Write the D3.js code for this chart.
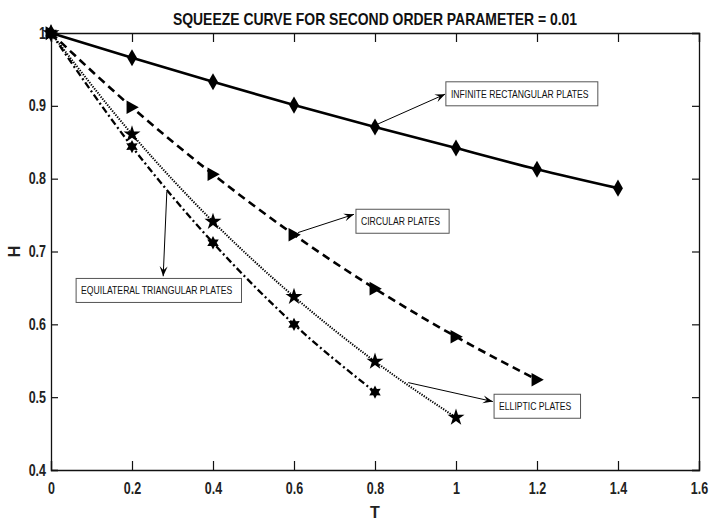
<!DOCTYPE html>
<html>
<head>
<meta charset="utf-8">
<script src="https://cdn.jsdelivr.net/npm/d3@7"></script>
<style>
  body { margin: 0; background: #fff; }
  text { font-family: 'Liberation Sans Narrow', 'Arial Narrow', 'Liberation Sans', sans-serif; }
</style>
</head>
<body>
<svg id="chart"></svg>
<script>
// data
let tValues = [0, 0.2, 0.4, 0.6, 0.8, 1.0, 1.2, 1.4];
let rectH = [1, 0.966, 0.933, 0.901, 0.871, 0.842, 0.813, 0.787];
let circH = [1, 0.898, 0.806, 0.723, 0.649, 0.583, 0.524];
let ellipH = [1, 0.861, 0.741, 0.638, 0.549, 0.472];
let triH = [1, 0.844, 0.712, 0.600, 0.507];

let xTicks = [0, 0.2, 0.4, 0.6, 0.8, 1, 1.2, 1.4, 1.6];
let yTicks = [0.4, 0.5, 0.6, 0.7, 0.8, 0.9, 1];

// annotations: arrow from [T,H] to [T,H], box top-left at [T,H]
let notes = [
  { label: 'INFINITE RECTANGULAR PLATES', from: [0.807, 0.875], to: [0.973, 0.916], box: [0.975, 0.933] },
  { label: 'CIRCULAR PLATES', from: [0.610, 0.726], to: [0.748, 0.751], box: [0.753, 0.758] },
  { label: 'ELLIPTIC PLATES', from: [0.882, 0.520], to: [1.091, 0.494], box: [1.094, 0.504] },
  { label: 'EQUILATERAL TRIANGULAR PLATES', from: [0.286, 0.782], to: [0.277, 0.666], box: [0.062, 0.663] }
];

let config = { svg: {}, margin: {}, plot: {} };
config.svg.width = 709;
config.svg.height = 521;
config.margin.top = 33;
config.margin.right = 10;
config.margin.bottom = 51;
config.margin.left = 51;
config.plot.width = config.svg.width - config.margin.left - config.margin.right;
config.plot.height = config.svg.height - config.margin.top - config.margin.bottom;

let svg = d3.select('#chart')
  .attr('width', config.svg.width)
  .attr('height', config.svg.height);

let defs = svg.append('defs');
defs.append('marker')
  .attr('id', 'arrow')
  .attr('viewBox', '-10 -5 12 10')
  .attr('refX', 0).attr('refY', 0)
  .attr('markerWidth', 12).attr('markerHeight', 10)
  .attr('markerUnits', 'userSpaceOnUse')
  .attr('orient', 'auto')
  .append('path')
  .attr('d', 'M0,0 L-10,-4 L-6,0 L-10,4 Z')
  .attr('fill', '#000');

let xScale = d3.scaleLinear().domain([0, 1.6]).range([0, config.plot.width]);
let yScale = d3.scaleLinear().domain([0.4, 1]).range([config.plot.height, 0]);

let plot = svg.append('g').attr('transform', translate(config.margin.left, config.margin.top));

// axes with inward ticks, box around plot
let fmt = d => d3.format('~g')(d);
let xAxis = d3.axisBottom(xScale).tickValues(xTicks).tickSize(-9).tickPadding(13).tickFormat(fmt);
let yAxis = d3.axisLeft(yScale).tickValues(yTicks).tickSize(-7).tickPadding(5).tickFormat(fmt);

plot.append('g').attr('transform', translate(0, config.plot.height)).call(xAxis);
plot.append('g').call(yAxis);
plot.append('g').call(d3.axisTop(xScale).tickValues(xTicks).tickSize(-9).tickFormat(''));
plot.append('g').attr('transform', translate(config.plot.width, 0))
  .call(d3.axisRight(yScale).tickValues(yTicks).tickSize(-7).tickFormat(''));

plot.selectAll('.domain').attr('stroke', '#111').attr('stroke-width', 1.3);
plot.selectAll('.tick line').attr('stroke', '#111').attr('stroke-width', 1.2);
plot.selectAll('.tick text')
  .attr('font-size', 16).attr('font-weight', 'bold').attr('fill', '#222')
  .style('font-family', "'Liberation Sans', sans-serif")
  .call(narrow, 0.78);

// custom symbols
let triRight = {
  draw(ctx, size) {
    let r = Math.sqrt(size) * 0.62;
    ctx.moveTo(r, 0);
    ctx.lineTo(-r * 0.8, -r);
    ctx.lineTo(-r * 0.8, r);
    ctx.closePath();
  }
};
let hexagram = {
  draw(ctx, size) {
    let r = Math.sqrt(size) * 0.62, ri = r * 0.55;
    for (let i = 0; i < 12; i++) {
      let a = -Math.PI / 2 + i * Math.PI / 6;
      let rr = i % 2 == 0 ? r : ri;
      if (i == 0) ctx.moveTo(rr * Math.cos(a), rr * Math.sin(a));
      else ctx.lineTo(rr * Math.cos(a), rr * Math.sin(a));
    }
    ctx.closePath();
  }
};

let series = [
  { values: rectH, dash: null, width: 2.6, symbol: d3.symbolDiamond, size: 84 },
  { values: circH, dash: '8,5', width: 2.6, symbol: triRight, size: 120 },
  { values: ellipH, dash: '1.3,1.3', width: 2, symbol: d3.symbolStar, size: 90 },
  { values: triH, dash: '7,3,2,3', width: 2.3, symbol: hexagram, size: 115 }
];

let line = d3.line()
  .x(d => xScale(d[0]))
  .y(d => yScale(d[1]))
  .curve(d3.curveMonotoneX);

series.forEach(s => {
  let pts = s.values.map((h, i) => [tValues[i], h]);
  plot.append('path')
    .datum(pts)
    .attr('fill', 'none')
    .attr('stroke', '#000')
    .attr('stroke-width', s.width)
    .attr('stroke-dasharray', s.dash)
    .attr('d', line);
  plot.selectAll(null)
    .data(pts)
    .enter()
    .append('path')
    .attr('transform', d => translate(xScale(d[0]), yScale(d[1])))
    .attr('d', d3.symbol().type(s.symbol).size(s.size))
    .attr('fill', '#000');
});

// annotations
notes.forEach(n => {
  plot.append('line')
    .attr('x1', xScale(n.from[0])).attr('y1', yScale(n.from[1]))
    .attr('x2', xScale(n.to[0])).attr('y2', yScale(n.to[1]))
    .attr('stroke', '#000').attr('stroke-width', 1)
    .attr('marker-end', 'url(#arrow)');
  let g = plot.append('g').attr('transform', translate(xScale(n.box[0]), yScale(n.box[1])));
  let rect = g.append('rect').attr('fill', '#fff').attr('stroke', '#555').attr('stroke-width', 1);
  let txt = g.append('text')
    .attr('x', 5).attr('y', 16)
    .attr('font-size', 11.5)
    .attr('fill', '#111')
    .text(n.label);
  narrow(txt, 0.75);
  let w = txt.node().getBBox().width;
  rect.attr('width', w + 14).attr('height', 24);
});

// title and axis labels
svg.append('text')
  .attr('x', config.margin.left + config.plot.width / 2)
  .attr('y', 25)
  .attr('text-anchor', 'middle')
  .attr('font-size', 17).attr('font-weight', 'bold').attr('fill', '#111')
  .text('SQUEEZE CURVE FOR SECOND ORDER PARAMETER = 0.01')
  .call(narrow, 0.82);

svg.append('text')
  .attr('x', config.margin.left + config.plot.width / 2)
  .attr('y', 518)
  .attr('text-anchor', 'middle')
  .attr('font-size', 16).attr('font-weight', 'bold').attr('fill', '#222')
  .text('T');

svg.append('text')
  .attr('transform', 'translate(20,' + (config.margin.top + config.plot.height / 2) + ') rotate(-90)')
  .attr('text-anchor', 'middle')
  .attr('font-size', 16).attr('font-weight', 'bold').attr('fill', '#222')
  .text('H');

// squeeze glyphs horizontally (no narrow font installed)
function narrow(sel, k) {
  sel.each(function() {
    let len = this.getComputedTextLength();
    d3.select(this)
      .attr('textLength', len * k)
      .attr('lengthAdjust', 'spacingAndGlyphs');
  });
}

function translate(x, y) {
  return 'translate(' + x + ',' + y + ')';
}
</script>
</body>
</html>
